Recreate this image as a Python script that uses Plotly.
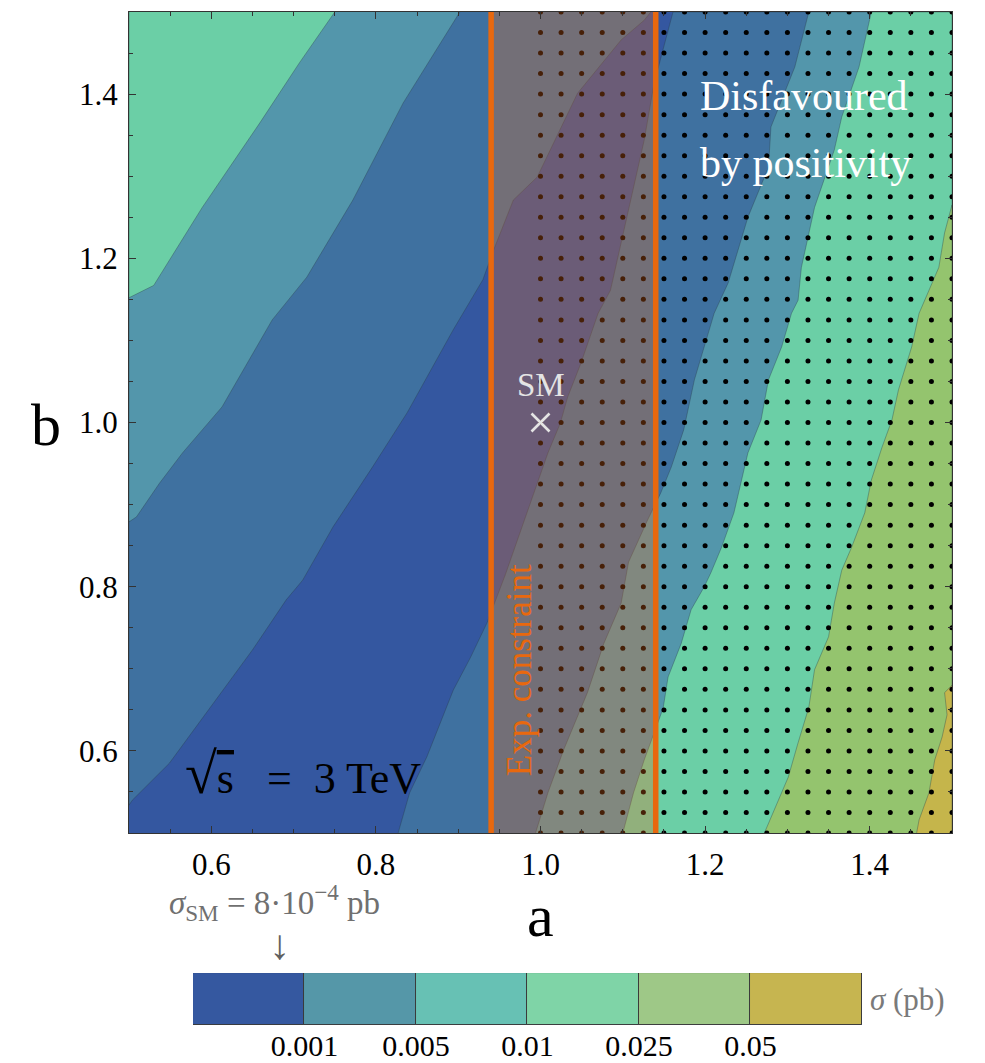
import numpy as np
import plotly.graph_objects as go

# ---------------- data ----------------
A_RANGE = [0.5, 1.5]
B_RANGE = [0.5, 1.5]

# contour boundaries (a, b)
# left side (from top edge down to left edge)
L3_a = [0.750, 0.707, 0.659, 0.589, 0.530, 0.500]
L3_b = [1.500, 1.438, 1.365, 1.262, 1.167, 1.152]
L2_a = [0.902, 0.833, 0.772, 0.716, 0.674, 0.613, 0.565, 0.537, 0.509, 0.500]
L2_b = [1.500, 1.389, 1.271, 1.177, 1.125, 1.019, 0.963, 0.926, 0.885, 0.879]
L1_a = [1.134, 1.126, 1.098, 1.045, 0.996, 0.967, 0.943, 0.930, 0.894, 0.838,
        0.796, 0.748, 0.711, 0.691, 0.650, 0.594, 0.549, 0.504, 0.500]
L1_b = [1.500, 1.490, 1.466, 1.401, 1.299, 1.271, 1.210, 1.174, 1.113, 1.012,
        0.946, 0.873, 0.808, 0.784, 0.723, 0.646, 0.585, 0.540, 0.534]
# right side (from bottom edge upward)
R1_a = [0.827, 0.841, 0.862, 0.894, 0.915, 0.935, 0.957, 0.984, 1.009, 1.024,
        1.033, 1.049, 1.070, 1.085, 1.101, 1.113, 1.126, 1.138, 1.152, 1.161]
R1_b = [0.500, 0.549, 0.593, 0.674, 0.714, 0.756, 0.814, 0.890, 0.963, 0.999,
        1.031, 1.072, 1.133, 1.161, 1.231, 1.287, 1.344, 1.413, 1.466, 1.500]
R2_a = [0.994, 1.009, 1.028, 1.057, 1.077, 1.098, 1.107, 1.130, 1.146, 1.159,
        1.174, 1.187, 1.211, 1.228, 1.252, 1.277, 1.280, 1.309, 1.326]
R2_b = [0.500, 0.549, 0.601, 0.671, 0.731, 0.780, 0.830, 0.881, 0.914, 0.946,
        0.991, 1.052, 1.133, 1.170, 1.250, 1.311, 1.360, 1.433, 1.500]
R3_a = [1.100, 1.113, 1.126, 1.138, 1.149, 1.155, 1.171, 1.183, 1.199, 1.207,
        1.220, 1.235, 1.244, 1.252, 1.268, 1.277, 1.293, 1.305, 1.313, 1.317,
        1.333, 1.357, 1.366, 1.387, 1.402]
R3_b = [0.500, 0.549, 0.589, 0.622, 0.652, 0.690, 0.731, 0.772, 0.800, 0.817,
        0.848, 0.890, 0.930, 0.963, 1.003, 1.052, 1.092, 1.133, 1.149, 1.189,
        1.262, 1.332, 1.372, 1.433, 1.500]
R4_a = [1.272, 1.284, 1.301, 1.313, 1.326, 1.333, 1.350, 1.357, 1.366, 1.378,
        1.394, 1.402, 1.415, 1.427, 1.435, 1.451, 1.460, 1.472, 1.484, 1.491, 1.500]
R4_b = [0.500, 0.528, 0.568, 0.610, 0.653, 0.699, 0.739, 0.780, 0.820, 0.848,
        0.890, 0.930, 0.970, 1.003, 1.040, 1.092, 1.133, 1.161, 1.189, 1.231, 1.265]
R5_a = [1.457, 1.460, 1.472, 1.479, 1.488, 1.494, 1.491, 1.500]
R5_b = [0.500, 0.516, 0.549, 0.589, 0.617, 0.644, 0.671, 0.680]

# experimental constraint on a, positivity region, SM point
EXP_A = [0.94, 1.14]
POS_A_MIN = 1.0
DOT_STEP = 0.025
SM_A = [1.0]
SM_B = [1.0]

# colour legend
LEVEL_LABELS = ["0.001", "0.005", "0.01", "0.025", "0.05"]
N_BINS = 6

# ---------------- style ----------------
C_DARK, C_STEEL, C_TEAL = "#3457A0", "#3F71A0", "#5396AB"
C_MINT, C_GREEN, C_OLIVE = "#6BCFA6", "#94C46E", "#C5B54B"
BAR_COLORS = ["#3558A0", "#5597A8", "#67C1B4", "#7FD4A7", "#9EC887", "#C6B550"]
ORANGE = "#E8680E"
SERIF = "Liberation Serif, Times New Roman, serif"
EDGE = dict(color="rgba(40,60,70,0.45)", width=0.8)

fig = go.Figure()


def left_region(a, b, color):
    xs = list(a) + [A_RANGE[0]]
    ys = list(b) + [B_RANGE[1]]
    fig.add_trace(go.Scatter(x=xs, y=ys, fill="toself", fillcolor=color,
                             mode="lines", line=EDGE, hoverinfo="skip",
                             showlegend=False))


def right_region(a, b, color, top_edge=True):
    xs = list(a)
    ys = list(b)
    if top_edge:
        xs += [A_RANGE[1]]
        ys += [B_RANGE[1]]
    xs += [A_RANGE[1]]
    ys += [B_RANGE[0]]
    fig.add_trace(go.Scatter(x=xs, y=ys, fill="toself", fillcolor=color,
                             mode="lines", line=EDGE, hoverinfo="skip",
                             showlegend=False))


left_region(L1_a, L1_b, C_STEEL)
left_region(L2_a, L2_b, C_TEAL)
left_region(L3_a, L3_b, C_MINT)
right_region(R1_a, R1_b, C_STEEL)
right_region(R2_a, R2_b, C_TEAL)
right_region(R3_a, R3_b, C_MINT)
right_region(R4_a, R4_b, C_GREEN, top_edge=False)
right_region(R5_a, R5_b, C_OLIVE, top_edge=False)

# dotted region (disfavoured by positivity)
da = np.arange(POS_A_MIN, A_RANGE[1] + 1e-9, DOT_STEP)
db = np.arange(B_RANGE[0], B_RANGE[1] + 1e-9, DOT_STEP)
DA, DB = np.meshgrid(da, db)
fig.add_trace(go.Scatter(x=DA.ravel(), y=DB.ravel(), mode="markers",
                         marker=dict(size=5, color="black"),
                         hoverinfo="skip", showlegend=False))

# experimental band
fig.add_trace(go.Scatter(x=[EXP_A[0], EXP_A[1], EXP_A[1], EXP_A[0]],
                         y=[B_RANGE[0], B_RANGE[0], B_RANGE[1], B_RANGE[1]],
                         fill="toself", fillcolor="rgba(235,105,25,0.30)",
                         mode="none", hoverinfo="skip", showlegend=False))
for ea in EXP_A:
    fig.add_trace(go.Scatter(x=[ea, ea], y=B_RANGE, mode="lines",
                             line=dict(color=ORANGE, width=5.5),
                             hoverinfo="skip", showlegend=False))

# SM point
fig.add_trace(go.Scatter(x=SM_A, y=SM_B, mode="markers",
                         marker=dict(symbol="x-thin", size=18,
                                     line=dict(color="#E4E4E4", width=2.6)),
                         hoverinfo="skip", showlegend=False))

# colour legend bar
fig.add_trace(go.Bar(x=[1] * N_BINS, base=list(range(N_BINS)), y=[0] * N_BINS,
                     orientation="h", width=1,
                     marker=dict(color=BAR_COLORS, line=dict(color="#3a3a3a", width=1)),
                     xaxis="x2", yaxis="y2", hoverinfo="skip", showlegend=False))

axis_common = dict(showline=True, linecolor="#333", linewidth=1, mirror="ticks",
                   ticks="inside", ticklen=7, tickcolor="#333", tickwidth=1,
                   showgrid=False, zeroline=False, automargin=False,
                   tickfont=dict(family=SERIF, size=31, color="black"),
                   minor=dict(ticks="inside", ticklen=4, dtick=0.05,
                              tickcolor="#333", showgrid=False))

fig.update_layout(
    width=985, height=1063,
    margin=dict(l=129, r=33, t=12, b=10),
    paper_bgcolor="white", plot_bgcolor=C_DARK,
    xaxis=dict(range=A_RANGE, domain=[0, 1], dtick=0.2, tick0=0.6,
               tickformat=".1f", ticklabelstandoff=4, **axis_common),
    yaxis=dict(range=B_RANGE, domain=[0.2113, 1], dtick=0.2, tick0=0.6,
               tickformat=".1f", ticklabelstandoff=4, **axis_common),
    xaxis2=dict(domain=[0.0778, 0.8906], anchor="y2", range=[0, N_BINS],
                tickvals=list(range(1, N_BINS)), ticktext=LEVEL_LABELS,
                ticks="", showline=False, showgrid=False, zeroline=False,
                ticklabelstandoff=0, automargin=False,
                tickfont=dict(family=SERIF, size=30, color="black")),
    yaxis2=dict(domain=[0.0269, 0.0768], anchor="x2", range=[-0.5, 0.5],
                showticklabels=False, ticks="", showline=False,
                showgrid=False, zeroline=False, automargin=False),
    bargap=0,
)

ann = []
# axis titles
ann.append(dict(text="b", xref="paper", yref="paper", x=-0.1009, y=0.6033,
                showarrow=False, font=dict(family=SERIF, size=60, color="black"),
                xanchor="center", yanchor="middle"))
ann.append(dict(text="a", xref="paper", yref="paper", x=0.5006, y=0.1320,
                showarrow=False, font=dict(family=SERIF, size=60, color="black"),
                xanchor="center", yanchor="middle"))
# in-plot labels
ann.append(dict(text="Disfavoured", xref="x", yref="y", x=1.191, y=1.3977,
                showarrow=False, font=dict(family=SERIF, size=42, color="white"),
                xanchor="left", yanchor="middle"))
ann.append(dict(text="by positivity", xref="x", yref="y", x=1.191, y=1.316,
                showarrow=False, font=dict(family=SERIF, size=42, color="white"),
                xanchor="left", yanchor="middle"))
ann.append(dict(text="SM", xref="x", yref="y", x=SM_A[0], y=1.0457,
                showarrow=False, font=dict(family=SERIF, size=33, color="#E4E4E4"),
                xanchor="center", yanchor="middle"))
ann.append(dict(text="Exp. constraint", xref="x", yref="y", x=0.974, y=0.6985,
                textangle=-90, showarrow=False,
                font=dict(family=SERIF, size=35, color=ORANGE),
                xanchor="center", yanchor="middle"))
ann.append(dict(text="<span style='font-size:58px'>√</span>"
                     "<span style='text-decoration:overline'>s</span>"
                     "   =  3 TeV",
                xref="x", yref="y", x=0.5656, y=0.572, showarrow=False,
                font=dict(family=SERIF, size=44, color="black"),
                xanchor="left", yanchor="middle"))
# SM cross-section note
ann.append(dict(text="<i>σ</i><sub>SM</sub> = 8·10<sup>−4</sup> pb",
                xref="paper", yref="paper", x=(274 - 129) / 823, y=0.145,
                showarrow=False, font=dict(family=SERIF, size=33, color="#707070"),
                xanchor="center", yanchor="middle"))
ann.append(dict(text="↓", xref="paper", yref="paper", x=(279 - 129) / 823,
                y=(1053 - 945) / 1041, showarrow=False,
                font=dict(family=SERIF, size=42, color="#606060"),
                xanchor="center", yanchor="middle"))
ann.append(dict(text="<i>σ</i> (pb)", xref="paper", yref="paper", x=0.898,
                y=(1053 - 999) / 1041, showarrow=False,
                font=dict(family=SERIF, size=31, color="#7A7A7A"),
                xanchor="left", yanchor="middle"))
fig.update_layout(annotations=ann)

fig.write_html("out.html")
